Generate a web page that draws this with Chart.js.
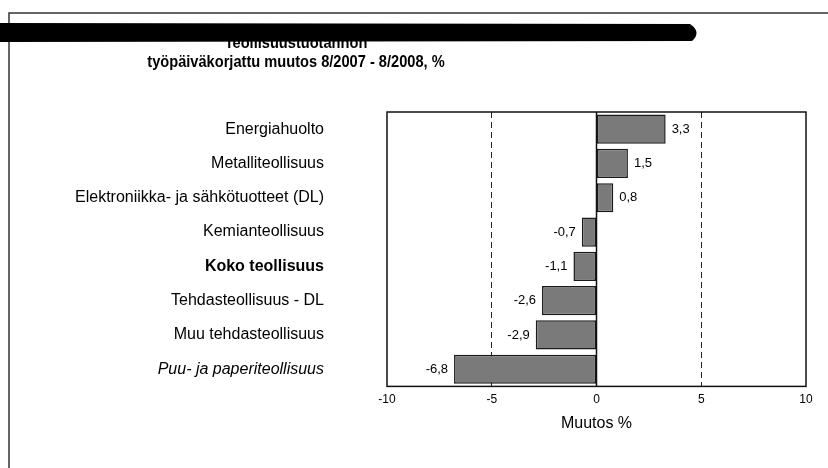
<!DOCTYPE html>
<html>
<head>
<meta charset="utf-8">
<script src="https://cdn.jsdelivr.net/npm/chart.js@4.4.1/dist/chart.umd.min.js"></script>
<style>
  html, body { margin: 0; padding: 0; background: #fff; }
  #wrap { width: 828px; height: 468px; position: relative; }
</style>
</head>
<body>
<div id="wrap"><canvas id="c" width="828" height="468"></canvas></div>
<script>
const titleLine1 = "Teollisuustuotannon";
const titleLine2 = "työpäiväkorjattu muutos 8/2007 - 8/2008, %";
const categories = [
  "Energiahuolto",
  "Metalliteollisuus",
  "Elektroniikka- ja sähkötuotteet (DL)",
  "Kemianteollisuus",
  "Koko teollisuus",
  "Tehdasteollisuus - DL",
  "Muu tehdasteollisuus",
  "Puu- ja paperiteollisuus"
];
const changes = [3.3, 1.5, 0.8, -0.7, -1.1, -2.6, -2.9, -6.8];
const xTicks = [-10, -5, 0, 5, 10];
const xAxisTitle = "Muutos %";
const boldCategory = "Koko teollisuus";
const italicCategory = "Puu- ja paperiteollisuus";

const FONT = "'Liberation Sans', Arial, sans-serif";

const decorPlugin = {
  id: 'decor',
  beforeDraw(chart) {
    const ctx = chart.ctx;
    ctx.save();
    ctx.fillStyle = '#fff';
    ctx.fillRect(0, 0, chart.width, chart.height);
    // slide frame
    ctx.strokeStyle = '#333';
    ctx.lineWidth = 1.5;
    ctx.beginPath();
    ctx.moveTo(9, 468);
    ctx.lineTo(9, 13);
    ctx.lineTo(828, 13);
    ctx.stroke();
    // title line 1 (mostly hidden under the marker stroke)
    ctx.fillStyle = '#000';
    ctx.textAlign = 'center';
    ctx.textBaseline = 'alphabetic';
    ctx.save();
    ctx.translate(296, 0);
    ctx.scale(0.86, 1);
    ctx.font = "bold 17px " + FONT;
    ctx.fillText(titleLine1, 0, 48);
    ctx.restore();
    // black marker stroke
    ctx.beginPath();
    ctx.moveTo(0, 23);
    ctx.lineTo(690, 24);
    ctx.quadraticCurveTo(702, 32, 692, 41);
    ctx.lineTo(0, 42);
    ctx.closePath();
    ctx.fill();
    // title line 2
    ctx.save();
    ctx.translate(296, 0);
    ctx.scale(0.86, 1);
    ctx.font = "bold 17px " + FONT;
    ctx.textBaseline = 'middle';
    ctx.fillText(titleLine2, 0, 62);
    ctx.restore();
    ctx.restore();
  },
  afterDatasetsDraw(chart) {
    const ctx = chart.ctx;
    const a = chart.chartArea;
    const xs = chart.scales.x;
    ctx.save();
    // zero line
    const x0 = xs.getPixelForValue(0);
    ctx.strokeStyle = '#111';
    ctx.lineWidth = 1.5;
    ctx.beginPath();
    ctx.moveTo(x0, a.top);
    ctx.lineTo(x0, a.bottom);
    ctx.stroke();
    // plot box
    ctx.lineWidth = 1.5;
    ctx.strokeStyle = '#111';
    ctx.strokeRect(a.left, a.top, a.right - a.left, a.bottom - a.top);
    // value labels
    const meta = chart.getDatasetMeta(0);
    ctx.fillStyle = '#000';
    ctx.font = "13px " + FONT;
    ctx.textBaseline = 'middle';
    meta.data.forEach((bar, i) => {
      const v = changes[i];
      const txt = v.toFixed(1).replace('.', ',');
      if (v >= 0) {
        ctx.textAlign = 'left';
        ctx.fillText(txt, bar.x + 6, bar.y);
      } else {
        ctx.textAlign = 'right';
        ctx.fillText(txt, bar.x - 6, bar.y);
      }
    });
    ctx.restore();
  }
};

new Chart(document.getElementById('c'), {
  type: 'bar',
  data: {
    labels: categories,
    datasets: [{
      data: changes,
      backgroundColor: '#7a7a7a',
      borderColor: '#1a1a1a',
      borderWidth: 1.5,
      borderSkipped: false,
      barPercentage: 0.85,
      categoryPercentage: 1.0
    }]
  },
  options: {
    indexAxis: 'y',
    responsive: false,
    animation: false,
    devicePixelRatio: 1,
    layout: { padding: { top: 112, right: 22, bottom: 31, left: 0 } },
    plugins: {
      legend: { display: false },
      title: { display: false },
      tooltip: { enabled: false }
    },
    scales: {
      x: {
        min: -10, max: 10,
        afterBuildTicks(scale) { scale.ticks = xTicks.map(v => ({ value: v })); },
        border: { display: false, dash: [6, 4] },
        grid: {
          drawTicks: false,
          lineWidth: 1,
          color: (c) => (c.tick && Math.abs(c.tick.value) === 5) ? '#222' : 'rgba(0,0,0,0)'
        },
        ticks: {
          padding: 6,
          color: '#000',
          font: { family: FONT, size: 12 },
          callback: (v) => String(v)
        },
        title: {
          display: true,
          text: xAxisTitle,
          color: '#000',
          font: { family: FONT, size: 16 },
          padding: { top: 1, bottom: 4 }
        }
      },
      y: {
        afterFit(scale) { scale.width = 387; },
        border: { display: false },
        grid: { display: false, drawTicks: false },
        ticks: {
          padding: 63,
          color: '#000',
          font: (c) => {
            const lbl = categories[c.index];
            if (lbl === boldCategory) return { family: FONT, size: 16, weight: 'bold' };
            if (lbl === italicCategory) return { family: FONT, size: 16, style: 'italic' };
            return { family: FONT, size: 16 };
          }
        }
      }
    }
  },
  plugins: [decorPlugin]
});
</script>
</body>
</html>
